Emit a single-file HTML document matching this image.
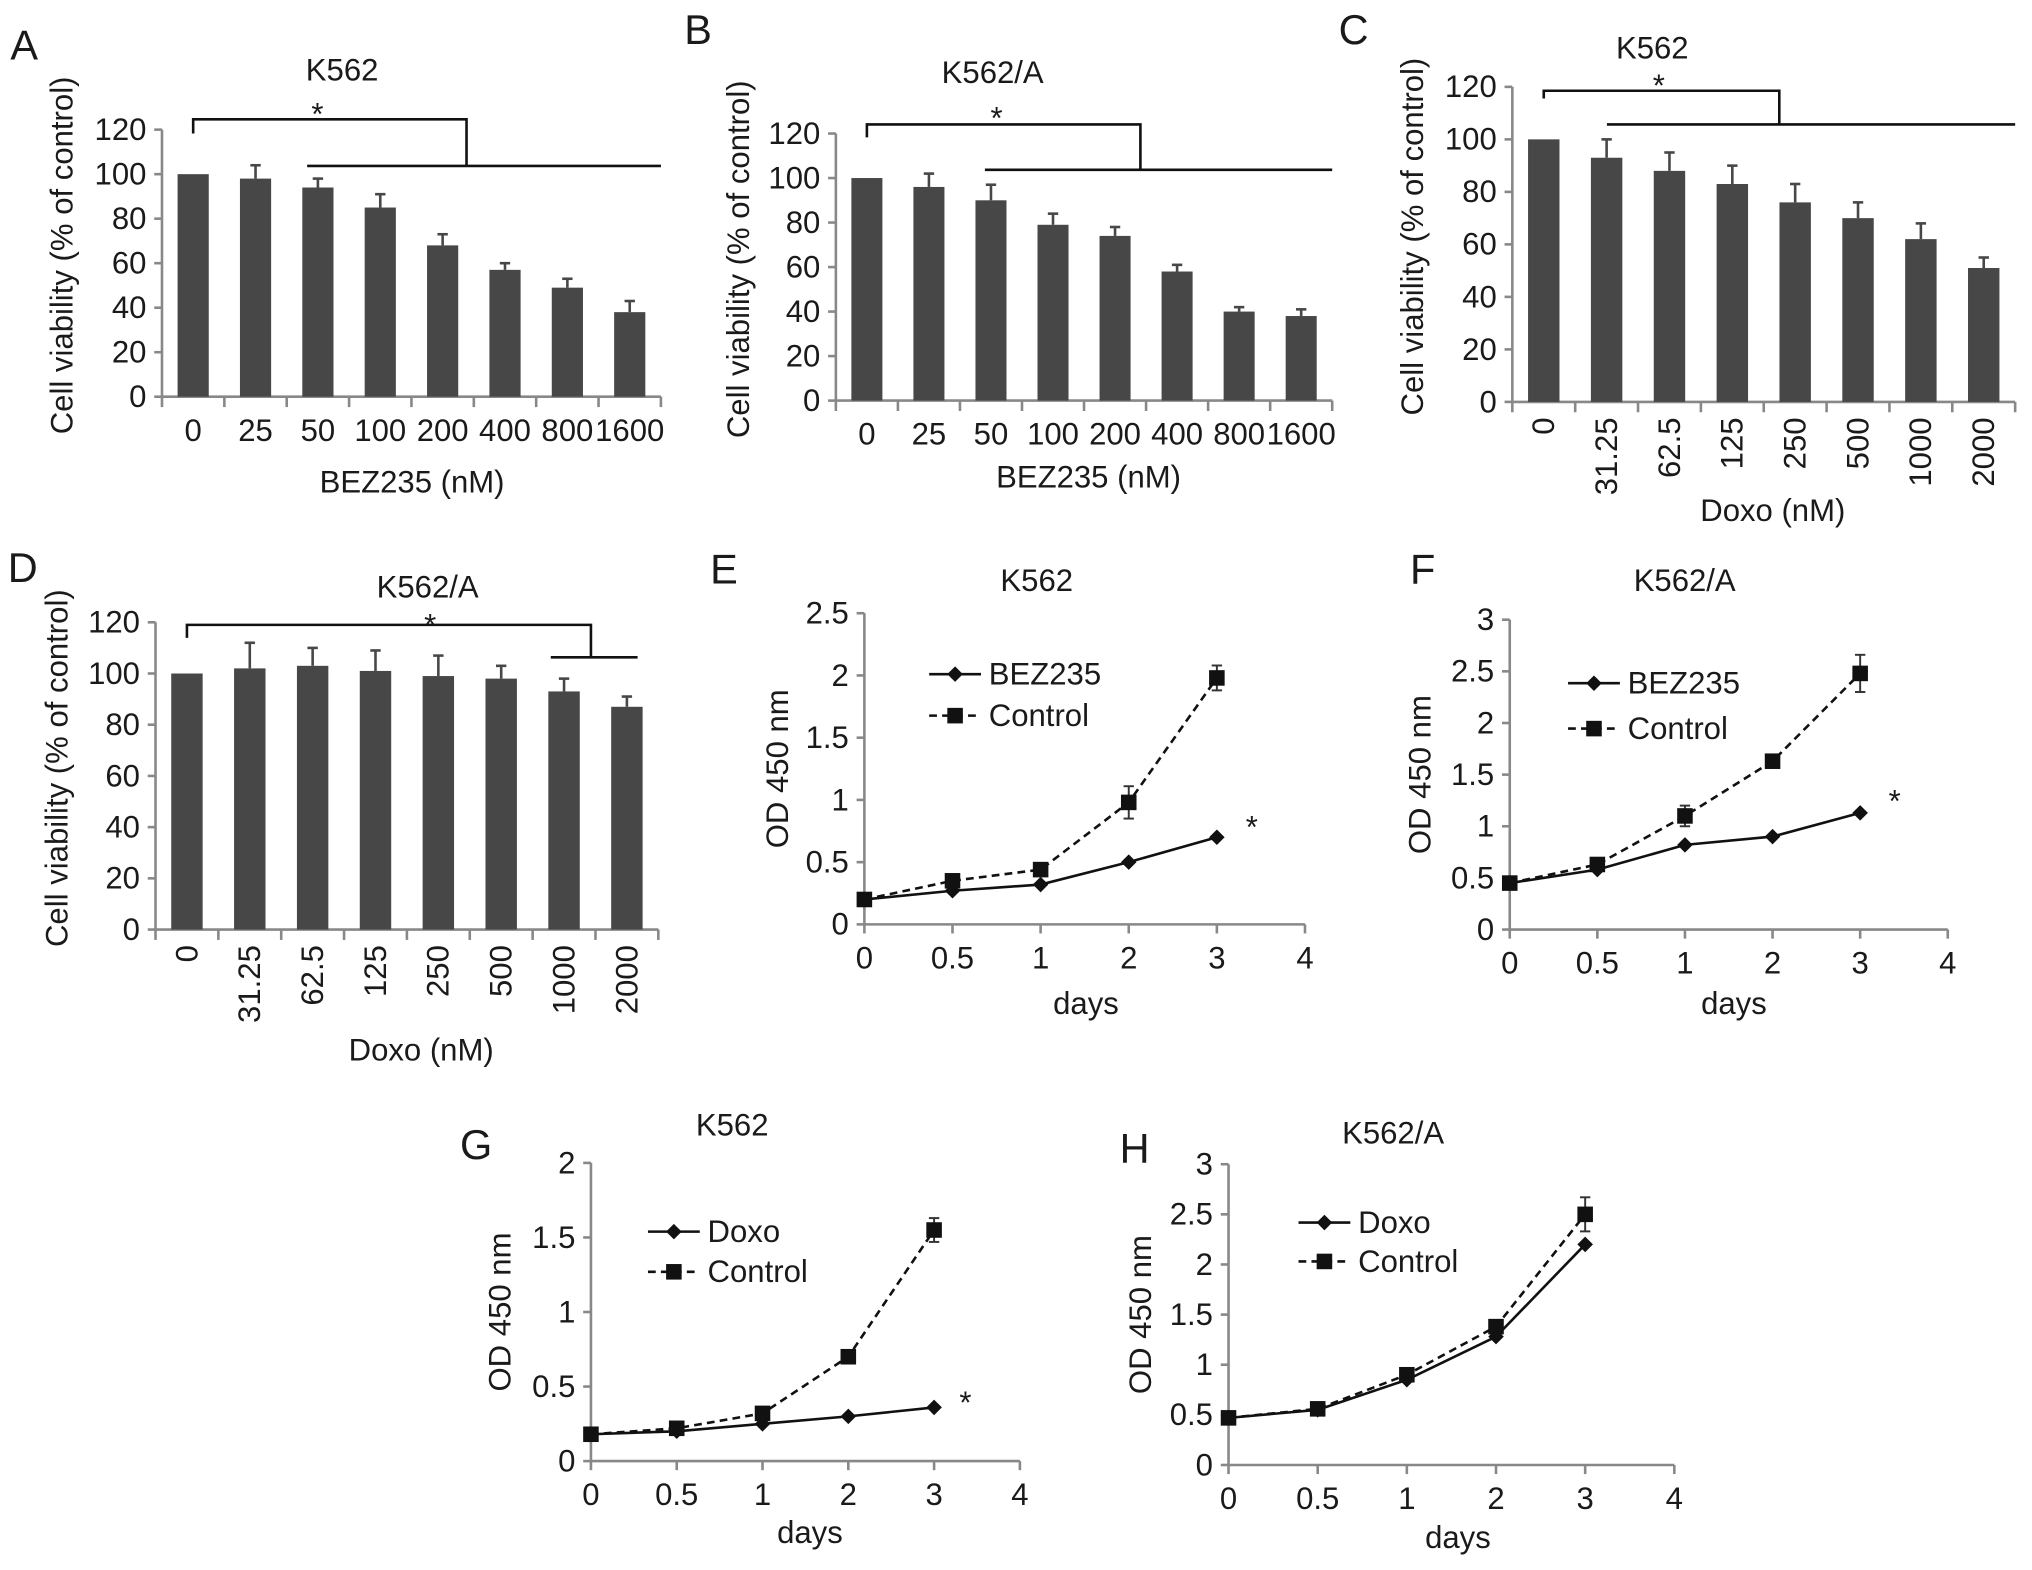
<!DOCTYPE html>
<html><head><meta charset="utf-8"><style>
html,body{margin:0;padding:0;background:#fff}
svg{display:block}
text{font-family:"Liberation Sans",Arial,sans-serif;fill:#1a1a1a}
</style></head><body>
<svg id="fig" width="2032" height="1570" viewBox="0 0 1568 1211" preserveAspectRatio="none" xmlns="http://www.w3.org/2000/svg"></svg>
<script>
// ---- data ----
const bezCats = ["0","25","50","100","200","400","800","1600"];
const doxoCats = ["0","31.25","62.5","125","250","500","1000","2000"];
const aVals = [100,98,94,85,68,57,49,38];
const aErr = [0,6,4,6,5,3,4,5];
const bVals = [100,96,90,79,74,58,40,38];
const bErr = [0,6,7,5,4,3,2,3];
const cVals = [100,93,88,83,76,70,62,51];
const cErr = [0,7,7,7,7,6,6,4];
const dVals = [100,102,103,101,99,98,93,87];
const dErr = [0,10,7,8,8,5,5,4];
const barTicks = [0,20,40,60,80,100,120];
const dayCats = ["0","0.5","1","2","3","4"];
const eTreat = [0.2,0.27,0.32,0.5,0.7];
const eCtrl = [0.2,0.35,0.44,0.98,1.98];
const eCtrlErr = [0.02,0.02,0.03,0.13,0.1];
const fTreat = [0.45,0.58,0.82,0.9,1.13];
const fCtrl = [0.45,0.63,1.1,1.63,2.48];
const fCtrlErr = [0.02,0.03,0.1,0.04,0.18];
const gTreat = [0.18,0.2,0.25,0.3,0.36];
const gCtrl = [0.18,0.22,0.32,0.7,1.55];
const gCtrlErr = [0.02,0.02,0.03,0.03,0.08];
const hTreat = [0.47,0.55,0.85,1.28,2.2];
const hCtrl = [0.47,0.56,0.9,1.38,2.5];
const hCtrlErr = [0.02,0.03,0.04,0.05,0.17];
const eTicks = [0,0.5,1,1.5,2,2.5];
const fTicks = [0,0.5,1,1.5,2,2.5,3];
const gTicks = [0,0.5,1,1.5,2];
const hTicks = [0,0.5,1,1.5,2,2.5,3];

const svg = document.getElementById('fig');
const NS = "http://www.w3.org/2000/svg";
const FS = 24;
function mk(tag, attrs, parent, txt){
  const e = document.createElementNS(NS, tag);
  for (const k in attrs) e.setAttribute(k, attrs[k]);
  if (txt !== undefined) e.textContent = txt;
  (parent||svg).appendChild(e);
  return e;
}
function fmt(v){ return String(v); }

function barPanel(o){
  const g = mk('g', {});
  
  
  const x0=o.x0, x1=o.x1, yTop=o.yTop, yBot=o.yBot, max=120;
  const ys = v => yBot - (v/max)*(yBot-yTop);
  const step = (x1-x0)/o.cats.length;
  const xc = i => x0 + step*(i+0.5);
  const letter = mk('text',{x:o.lx,y:o.ly,'font-size':32},g,o.letter);
  
  
  const t = mk('text',{x:o.tx,y:o.ty,'font-size':FS,'text-anchor':'middle'},g,o.title);
  
  
  mk('line',{x1:x0,y1:yTop,x2:x0,y2:yBot,stroke:'#888','stroke-width':2},g);
  mk('line',{x1:x0,y1:yBot,x2:x1,y2:yBot,stroke:'#888','stroke-width':2},g);
  barTicks.forEach(v=>{
    mk('line',{x1:x0-6,y1:ys(v),x2:x0,y2:ys(v),stroke:'#888','stroke-width':2},g);
    const tl = mk('text',{x:x0-12,y:ys(v)+8,'font-size':FS,'text-anchor':'end'},g,fmt(v));
    
    
  });
  for(let i=0;i<=o.cats.length;i++){
    mk('line',{x1:x0+step*i,y1:yBot,x2:x0+step*i,y2:yBot+8,stroke:'#888','stroke-width':2},g);
  }
  o.cats.forEach((c,i)=>{
    let tl;
    if(o.rot){
      tl = mk('text',{x:0,y:0,'font-size':FS,'text-anchor':'end',transform:`translate(${xc(i)+8},${yBot+12}) rotate(-90)`},g,c);
    } else {
      tl = mk('text',{x:xc(i),y:yBot+34,'font-size':FS,'text-anchor':'middle'},g,c);
    }
    
    
  });
  const bw = step*0.5;
  o.vals.forEach((v,i)=>{
    const b = mk('rect',{x:xc(i)-bw/2,y:ys(v),width:bw,height:yBot-ys(v),fill:'#474747'},g);
    
    
    const e = o.err[i];
    if(e>0){
      mk('line',{x1:xc(i),y1:ys(v),x2:xc(i),y2:ys(v+e),stroke:'#474747','stroke-width':2},g);
      mk('line',{x1:xc(i)-4,y1:ys(v+e),x2:xc(i)+4,y2:ys(v+e),stroke:'#474747','stroke-width':2},g);
    }
  });
  const xt = mk('text',{x:o.xtx,y:o.xty,'font-size':FS,'text-anchor':'middle'},g,o.xtitle);
  
  
  const yt = mk('text',{x:0,y:0,'font-size':FS,'text-anchor':'middle',transform:`translate(${o.ytx},${(yTop+yBot)/2-6}) rotate(-90)`},g,'Cell viability (% of control)');
  
  
  const bk = o.br;
  mk('polyline',{points:`${xc(0)},${bk.yStart} ${xc(0)},${bk.yt} ${bk.xm},${bk.yt} ${bk.xm},${bk.yh}`,fill:'none',stroke:'#111','stroke-width':2},g);
  mk('line',{x1:bk.hx1,y1:bk.yh,x2:bk.hx2,y2:bk.yh,stroke:'#111','stroke-width':2},g);
  const st = mk('text',{x:bk.sx,y:bk.sy,'font-size':FS,'text-anchor':'middle',fill:'#555'},g,'*');
  
  
}

function linePanel(o){
  const g = mk('g', {});
  
  
  const x0=o.x0, x1=o.x1, yTop=o.yTop, yBot=o.yBot, max=o.ticks[o.ticks.length-1];
  const ys = v => yBot - (v/max)*(yBot-yTop);
  const step=(x1-x0)/(dayCats.length-1);
  const xs = i => x0 + step*i;
  const letter = mk('text',{x:o.lx,y:o.ly,'font-size':32},g,o.letter);
  
  
  const t = mk('text',{x:o.tx,y:o.ty,'font-size':FS,'text-anchor':'middle'},g,o.title);
  
  
  mk('line',{x1:x0,y1:yTop,x2:x0,y2:yBot,stroke:'#888','stroke-width':2},g);
  mk('line',{x1:x0,y1:yBot,x2:x1,y2:yBot,stroke:'#888','stroke-width':2},g);
  o.ticks.forEach(v=>{
    mk('line',{x1:x0-6,y1:ys(v),x2:x0,y2:ys(v),stroke:'#888','stroke-width':2},g);
    const tl = mk('text',{x:x0-12,y:ys(v)+8,'font-size':FS,'text-anchor':'end'},g,fmt(v));
    
    
  });
  dayCats.forEach((c,i)=>{
    mk('line',{x1:xs(i),y1:yBot,x2:xs(i),y2:yBot+7,stroke:'#888','stroke-width':2},g);
    const tl = mk('text',{x:xs(i),y:yBot+34,'font-size':FS,'text-anchor':'middle'},g,c);
    
    
  });
  const cp = o.ctrl.map((v,i)=>`${xs(i)},${ys(v)}`).join(' ');
  const cl = mk('polyline',{points:cp,fill:'none',stroke:'#111','stroke-width':2,'stroke-dasharray':'6,4'},g);
  
  
  const tp = o.treat.map((v,i)=>`${xs(i)},${ys(v)}`).join(' ');
  const tline = mk('polyline',{points:tp,fill:'none',stroke:'#111','stroke-width':2},g);
  
  
  o.ctrl.forEach((v,i)=>{
    const e=o.cerr[i];
    mk('line',{x1:xs(i),y1:ys(v-e),x2:xs(i),y2:ys(v+e),stroke:'#333','stroke-width':1.5},g);
    mk('line',{x1:xs(i)-4,y1:ys(v+e),x2:xs(i)+4,y2:ys(v+e),stroke:'#333','stroke-width':1.5},g);
    mk('line',{x1:xs(i)-4,y1:ys(v-e),x2:xs(i)+4,y2:ys(v-e),stroke:'#333','stroke-width':1.5},g);
    const m = mk('rect',{x:xs(i)-6,y:ys(v)-6,width:12,height:12,fill:'#111'},g);
    
    
  });
  o.treat.forEach((v,i)=>{
    const x=xs(i), y=ys(v);
    const m = mk('polygon',{points:`${x},${y-6} ${x+6},${y} ${x},${y+6} ${x-6},${y}`,fill:'#111'},g);
    
    
  });
  const L=o.leg;
  const l1 = mk('g',{},g);
  
  
  mk('line',{x1:L.x,y1:L.y1,x2:L.x+40,y2:L.y1,stroke:'#111','stroke-width':2},l1);
  mk('polygon',{points:`${L.x+20},${L.y1-6} ${L.x+26},${L.y1} ${L.x+20},${L.y1+6} ${L.x+14},${L.y1}`,fill:'#111'},l1);
  mk('text',{x:L.x+46,y:L.y1+8,'font-size':FS},l1,o.treatName);
  const l2 = mk('g',{},g);
  
  
  mk('line',{x1:L.x,y1:L.y2,x2:L.x+40,y2:L.y2,stroke:'#111','stroke-width':2,'stroke-dasharray':'6,4'},l2);
  mk('rect',{x:L.x+14,y:L.y2-6,width:12,height:12,fill:'#111'},l2);
  mk('text',{x:L.x+46,y:L.y2+8,'font-size':FS},l2,'Control');
  if(o.star){
    const st = mk('text',{x:o.star[0],y:o.star[1],'font-size':FS,'text-anchor':'middle',fill:'#555'},g,'*');
    
    
  }
  const xt = mk('text',{x:o.xtx,y:o.xty,'font-size':FS,'text-anchor':'middle'},g,'days');
  
  
  const yt = mk('text',{x:0,y:0,'font-size':FS,'text-anchor':'middle',transform:`translate(${o.ytx},${(yTop+yBot)/2}) rotate(-90)`},g,'OD 450 nm');
  
  
}

barPanel({name:'panel-a',letter:'A',lx:8,ly:46,title:'K562',tx:264,ty:62,x0:125,x1:510,yTop:100,yBot:306,
  cats:bezCats,vals:aVals,err:aErr,rot:false,xtitle:'BEZ235 (nM)',xtx:318,xty:380,ytx:56,
  br:{yStart:103,yt:92,xm:360,yh:128,hx1:237,hx2:510,sx:245,sy:96}});
barPanel({name:'panel-b',letter:'B',lx:528,ly:34,title:'K562/A',tx:766,ty:64,x0:645,x1:1028,yTop:103,yBot:309,
  cats:bezCats,vals:bVals,err:bErr,rot:false,xtitle:'BEZ235 (nM)',xtx:840,xty:376,ytx:578,
  br:{yStart:106,yt:96,xm:880,yh:131,hx1:760,hx2:1028,sx:769,sy:99}});
barPanel({name:'panel-c',letter:'C',lx:1033,ly:34,title:'K562',tx:1275,ty:45,x0:1167,x1:1555,yTop:67,yBot:310,
  cats:doxoCats,vals:cVals,err:cErr,rot:true,xtitle:'Doxo (nM)',xtx:1368,xty:402,ytx:1098,
  br:{yStart:76,yt:70,xm:1373,yh:96,hx1:1240,hx2:1555,sx:1280,sy:74}});
barPanel({name:'panel-d',letter:'D',lx:6,ly:449,title:'K562/A',tx:330,ty:461,x0:120,x1:508,yTop:480,yBot:717,
  cats:doxoCats,vals:dVals,err:dErr,rot:true,xtitle:'Doxo (nM)',xtx:325,xty:818,ytx:52,
  br:{yStart:492,yt:482,xm:456,yh:507,hx1:425,hx2:492,sx:332,sy:490}});

linePanel({name:'panel-e',letter:'E',lx:548,ly:450,title:'K562',tx:800,ty:456,x0:667,x1:1007,yTop:473,yBot:713,
  ticks:eTicks,treat:eTreat,ctrl:eCtrl,cerr:eCtrlErr,treatName:'BEZ235',leg:{x:717,y1:520,y2:552},
  star:[966,646],xtx:838,xty:782,ytx:608});
linePanel({name:'panel-f',letter:'F',lx:1088,ly:450,title:'K562/A',tx:1300,ty:456,x0:1165,x1:1503,yTop:478,yBot:717,
  ticks:fTicks,treat:fTreat,ctrl:fCtrl,cerr:fCtrlErr,treatName:'BEZ235',leg:{x:1210,y1:527,y2:562},
  star:[1462,626],xtx:1338,xty:782,ytx:1104});
linePanel({name:'panel-g',letter:'G',lx:355,ly:894,title:'K562',tx:565,ty:876,x0:456,x1:787,yTop:897,yBot:1127,
  ticks:gTicks,treat:gTreat,ctrl:gCtrl,cerr:gCtrlErr,treatName:'Doxo',leg:{x:500,y1:950,y2:981},
  star:[745,1090],xtx:625,xty:1190,ytx:394});
linePanel({name:'panel-h',letter:'H',lx:864,ly:897,title:'K562/A',tx:1075,ty:882,x0:948,x1:1292,yTop:898,yBot:1130,
  ticks:hTicks,treat:hTreat,ctrl:hCtrl,cerr:hCtrlErr,treatName:'Doxo',leg:{x:1002,y1:943,y2:973},
  star:null,xtx:1125,xty:1194,ytx:888});
</script>
</body></html>
